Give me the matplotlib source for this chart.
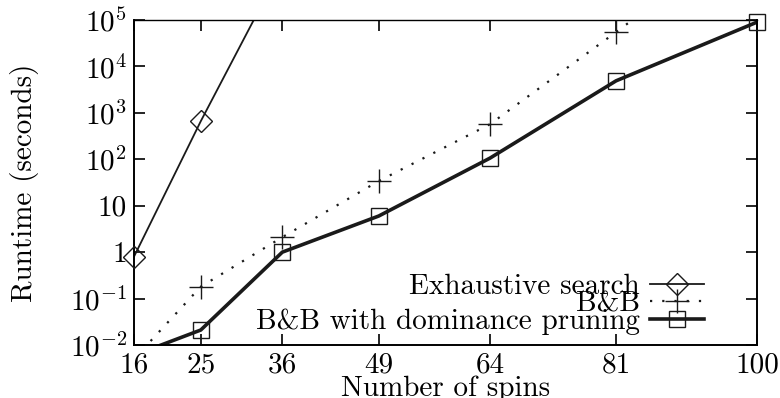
import numpy as np
import matplotlib
matplotlib.use("Agg")
import matplotlib.pyplot as plt
from matplotlib.lines import Line2D

plt.rcParams["font.family"] = ["cmr10", "DejaVu Serif"]
plt.rcParams["mathtext.fontset"] = "cm"
plt.rcParams["axes.unicode_minus"] = False

spins = [16, 25, 36, 49, 64, 81, 100]
exhaustive = [0.8, 660, 1.5e6]
bnb = [0.005, 0.18, 2.1, 34, 570, 55000, 1.0e7]
bnb_dom = [0.006, 0.021, 1.0, 6.0, 106, 4900, 90000]

y_ticks = [1e-2, 1e-1, 1, 10, 1e2, 1e3, 1e4, 1e5]
y_tick_labels = [r"$10^{-2}$", r"$10^{-1}$", "1", "10",
                 r"$10^{2}$", r"$10^{3}$", r"$10^{4}$", r"$10^{5}$"]

FS = 21

fig = plt.figure(figsize=(7.8, 3.98), dpi=100)
ax = fig.add_axes([0.1718, 0.1332, 0.7987, 0.8165])
ax.set_xlim(16, 100)
ax.set_ylim(1e-2, 1e5)
ax.set_yscale("log")

series = [
    (spins[:len(exhaustive)], exhaustive, dict(ls="-", lw=1.3), dict(marker="D", ms=11, mew=1.0)),
    (spins, bnb, dict(ls=(0, (1, 4.5)), lw=1.6), dict(marker="+", ms=17, mew=1.0)),
    (spins, bnb_dom, dict(ls="-", lw=2.6), dict(marker="s", ms=12, mew=1.0)),
]
labels = ["Exhaustive search", "B&B", "B&B with dominance pruning"]
handles = []
for (xs, ys, lstyle, mstyle), lab in zip(series, labels):
    xs = np.asarray(xs, float)
    ys = np.asarray(ys, float)
    ax.plot(xs, ys, color="#1a1a1a", **lstyle)
    inside = (ys >= 1e-2) & (ys <= 1e5)
    ax.plot(xs[inside], ys[inside], ls="none", color="#1a1a1a",
            mfc="none", clip_on=False, zorder=4, **mstyle)
    handles.append(Line2D([], [], color="#1a1a1a", mfc="none", **lstyle, **mstyle))

ax.set_xticks(spins)
ax.set_xticklabels([str(s) for s in spins])
ax.set_yticks(y_ticks)
ax.set_yticklabels(y_tick_labels)
ax.minorticks_off()
ax.tick_params(direction="in", length=8, width=1.2, labelsize=FS,
               top=True, right=True, pad=5)
for side in ax.spines.values():
    side.set_linewidth(1.4)
ax.spines["top"].set_linewidth(1.0)

ax.set_xlabel("Number of spins", fontsize=FS, labelpad=-2)
ax.set_ylabel("Runtime (seconds)", fontsize=FS, labelpad=22)

leg = ax.legend(handles, labels, loc="lower right", bbox_to_anchor=(0.948, -0.033),
                frameon=False, markerfirst=False, fontsize=FS,
                handlelength=1.85, handletextpad=0.35, labelspacing=-0.3,
                borderpad=0.2)
for t in leg.get_texts():
    t.set_ha("right")

fig.savefig("out.png", dpi=100)
